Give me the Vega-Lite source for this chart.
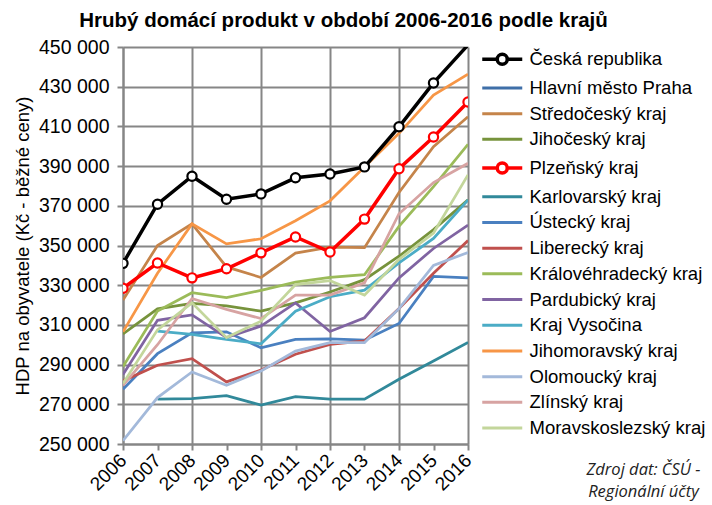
{
  "$schema": "https://vega.github.io/schema/vega-lite/v6.json",
  "width": 345,
  "height": 397,
  "autosize": "none",
  "padding": {"left": 123, "top": 47, "right": 244, "bottom": 61},
  "background": "white",
  "title": {
    "text": "Hrubý domácí produkt v období 2006-2016 podle krajů",
    "font": "Liberation Sans",
    "fontSize": 20.5,
    "fontWeight": "bold",
    "color": "black",
    "anchor": "middle",
    "frame": "group",
    "dx": 48,
    "baseline": "alphabetic",
    "offset": -10
  },
  "config": {
    "view": {"stroke": null},
    "font": "Liberation Sans"
  },
  "data": {
    "values": [
      {"r": "Česká republika", "y": 2006, "v": 341000}, {"r": "Česká republika", "y": 2007, "v": 370800}, {"r": "Česká republika", "y": 2008, "v": 384900}, {"r": "Česká republika", "y": 2009, "v": 373300}, {"r": "Česká republika", "y": 2010, "v": 376000}, {"r": "Česká republika", "y": 2011, "v": 384100}, {"r": "Česká republika", "y": 2012, "v": 386000}, {"r": "Česká republika", "y": 2013, "v": 389600}, {"r": "Česká republika", "y": 2014, "v": 409800}, {"r": "Česká republika", "y": 2015, "v": 431900}, {"r": "Česká republika", "y": 2016, "v": 451000},
      {"r": "Plzeňský kraj", "y": 2006, "v": 328500}, {"r": "Plzeňský kraj", "y": 2007, "v": 341200}, {"r": "Plzeňský kraj", "y": 2008, "v": 333700}, {"r": "Plzeňský kraj", "y": 2009, "v": 338300}, {"r": "Plzeňský kraj", "y": 2010, "v": 346300}, {"r": "Plzeňský kraj", "y": 2011, "v": 354300}, {"r": "Plzeňský kraj", "y": 2012, "v": 346700}, {"r": "Plzeňský kraj", "y": 2013, "v": 363300}, {"r": "Plzeňský kraj", "y": 2014, "v": 388700}, {"r": "Plzeňský kraj", "y": 2015, "v": 404700}, {"r": "Plzeňský kraj", "y": 2016, "v": 422300},
      {"r": "Středočeský kraj", "y": 2006, "v": 322500}, {"r": "Středočeský kraj", "y": 2007, "v": 350000}, {"r": "Středočeský kraj", "y": 2008, "v": 360900}, {"r": "Středočeský kraj", "y": 2009, "v": 339200}, {"r": "Středočeský kraj", "y": 2010, "v": 333900}, {"r": "Středočeský kraj", "y": 2011, "v": 346200}, {"r": "Středočeský kraj", "y": 2012, "v": 349200}, {"r": "Středočeský kraj", "y": 2013, "v": 348900}, {"r": "Středočeský kraj", "y": 2014, "v": 376700}, {"r": "Středočeský kraj", "y": 2015, "v": 399800}, {"r": "Středočeský kraj", "y": 2016, "v": 414900},
      {"r": "Jihočeský kraj", "y": 2006, "v": 305500}, {"r": "Jihočeský kraj", "y": 2007, "v": 318100}, {"r": "Jihočeský kraj", "y": 2008, "v": 320800}, {"r": "Jihočeský kraj", "y": 2009, "v": 319600}, {"r": "Jihočeský kraj", "y": 2010, "v": 316900}, {"r": "Jihočeský kraj", "y": 2011, "v": 321100}, {"r": "Jihočeský kraj", "y": 2012, "v": 326600}, {"r": "Jihočeský kraj", "y": 2013, "v": 332800}, {"r": "Jihočeský kraj", "y": 2014, "v": 344600}, {"r": "Jihočeský kraj", "y": 2015, "v": 358000}, {"r": "Jihočeský kraj", "y": 2016, "v": 373000},
      {"r": "Karlovarský kraj", "y": 2007, "v": 272600}, {"r": "Karlovarský kraj", "y": 2008, "v": 272900}, {"r": "Karlovarský kraj", "y": 2009, "v": 274400}, {"r": "Karlovarský kraj", "y": 2010, "v": 269600}, {"r": "Karlovarský kraj", "y": 2011, "v": 273900}, {"r": "Karlovarský kraj", "y": 2012, "v": 272600}, {"r": "Karlovarský kraj", "y": 2013, "v": 272600}, {"r": "Karlovarský kraj", "y": 2014, "v": 282600}, {"r": "Karlovarský kraj", "y": 2015, "v": 291800}, {"r": "Karlovarský kraj", "y": 2016, "v": 301200},
      {"r": "Ústecký kraj", "y": 2006, "v": 277600}, {"r": "Ústecký kraj", "y": 2007, "v": 295500}, {"r": "Ústecký kraj", "y": 2008, "v": 306000}, {"r": "Ústecký kraj", "y": 2009, "v": 306500}, {"r": "Ústecký kraj", "y": 2010, "v": 298500}, {"r": "Ústecký kraj", "y": 2011, "v": 302700}, {"r": "Ústecký kraj", "y": 2012, "v": 303000}, {"r": "Ústecký kraj", "y": 2013, "v": 302300}, {"r": "Ústecký kraj", "y": 2014, "v": 310700}, {"r": "Ústecký kraj", "y": 2015, "v": 334400}, {"r": "Ústecký kraj", "y": 2016, "v": 333700},
      {"r": "Liberecký kraj", "y": 2006, "v": 281800}, {"r": "Liberecký kraj", "y": 2007, "v": 289700}, {"r": "Liberecký kraj", "y": 2008, "v": 293000}, {"r": "Liberecký kraj", "y": 2009, "v": 281300}, {"r": "Liberecký kraj", "y": 2010, "v": 287300}, {"r": "Liberecký kraj", "y": 2011, "v": 295200}, {"r": "Liberecký kraj", "y": 2012, "v": 300200}, {"r": "Liberecký kraj", "y": 2013, "v": 301900}, {"r": "Liberecký kraj", "y": 2014, "v": 318200}, {"r": "Liberecký kraj", "y": 2015, "v": 336000}, {"r": "Liberecký kraj", "y": 2016, "v": 352500},
      {"r": "Královéhradecký kraj", "y": 2006, "v": 289000}, {"r": "Královéhradecký kraj", "y": 2007, "v": 317000}, {"r": "Královéhradecký kraj", "y": 2008, "v": 326200}, {"r": "Královéhradecký kraj", "y": 2009, "v": 323700}, {"r": "Královéhradecký kraj", "y": 2010, "v": 327400}, {"r": "Královéhradecký kraj", "y": 2011, "v": 331500}, {"r": "Královéhradecký kraj", "y": 2012, "v": 333900}, {"r": "Královéhradecký kraj", "y": 2013, "v": 335300}, {"r": "Královéhradecký kraj", "y": 2014, "v": 359600}, {"r": "Královéhradecký kraj", "y": 2015, "v": 379700}, {"r": "Královéhradecký kraj", "y": 2016, "v": 401000},
      {"r": "Pardubický kraj", "y": 2006, "v": 285000}, {"r": "Pardubický kraj", "y": 2007, "v": 312300}, {"r": "Pardubický kraj", "y": 2008, "v": 315000}, {"r": "Pardubický kraj", "y": 2009, "v": 303600}, {"r": "Pardubický kraj", "y": 2010, "v": 309400}, {"r": "Pardubický kraj", "y": 2011, "v": 321100}, {"r": "Pardubický kraj", "y": 2012, "v": 306700}, {"r": "Pardubický kraj", "y": 2013, "v": 313600}, {"r": "Pardubický kraj", "y": 2014, "v": 333700}, {"r": "Pardubický kraj", "y": 2015, "v": 348500}, {"r": "Pardubický kraj", "y": 2016, "v": 360300},
      {"r": "Kraj Vysočina", "y": 2007, "v": 306900}, {"r": "Kraj Vysočina", "y": 2008, "v": 305200}, {"r": "Kraj Vysočina", "y": 2009, "v": 302700}, {"r": "Kraj Vysočina", "y": 2010, "v": 300500}, {"r": "Kraj Vysočina", "y": 2011, "v": 316900}, {"r": "Kraj Vysočina", "y": 2012, "v": 324200}, {"r": "Kraj Vysočina", "y": 2013, "v": 327500}, {"r": "Kraj Vysočina", "y": 2014, "v": 341200}, {"r": "Kraj Vysočina", "y": 2015, "v": 353600}, {"r": "Kraj Vysočina", "y": 2016, "v": 373000},
      {"r": "Jihomoravský kraj", "y": 2006, "v": 306500}, {"r": "Jihomoravský kraj", "y": 2007, "v": 336000}, {"r": "Jihomoravský kraj", "y": 2008, "v": 360900}, {"r": "Jihomoravský kraj", "y": 2009, "v": 350800}, {"r": "Jihomoravský kraj", "y": 2010, "v": 353400}, {"r": "Jihomoravský kraj", "y": 2011, "v": 362500}, {"r": "Jihomoravský kraj", "y": 2012, "v": 372500}, {"r": "Jihomoravský kraj", "y": 2013, "v": 389500}, {"r": "Jihomoravský kraj", "y": 2014, "v": 406500}, {"r": "Jihomoravský kraj", "y": 2015, "v": 425800}, {"r": "Jihomoravský kraj", "y": 2016, "v": 436300},
      {"r": "Olomoucký kraj", "y": 2006, "v": 251700}, {"r": "Olomoucký kraj", "y": 2007, "v": 273400}, {"r": "Olomoucký kraj", "y": 2008, "v": 286300}, {"r": "Olomoucký kraj", "y": 2009, "v": 279600}, {"r": "Olomoucký kraj", "y": 2010, "v": 286800}, {"r": "Olomoucký kraj", "y": 2011, "v": 296800}, {"r": "Olomoucký kraj", "y": 2012, "v": 301100}, {"r": "Olomoucký kraj", "y": 2013, "v": 301100}, {"r": "Olomoucký kraj", "y": 2014, "v": 318200}, {"r": "Olomoucký kraj", "y": 2015, "v": 340000}, {"r": "Olomoucký kraj", "y": 2016, "v": 346500},
      {"r": "Zlínský kraj", "y": 2006, "v": 279500}, {"r": "Zlínský kraj", "y": 2007, "v": 300000}, {"r": "Zlínský kraj", "y": 2008, "v": 323300}, {"r": "Zlínský kraj", "y": 2009, "v": 317800}, {"r": "Zlínský kraj", "y": 2010, "v": 313200}, {"r": "Zlínský kraj", "y": 2011, "v": 325000}, {"r": "Zlínský kraj", "y": 2012, "v": 325000}, {"r": "Zlínský kraj", "y": 2013, "v": 331200}, {"r": "Zlínský kraj", "y": 2014, "v": 366000}, {"r": "Zlínský kraj", "y": 2015, "v": 381700}, {"r": "Zlínský kraj", "y": 2016, "v": 391400},
      {"r": "Moravskoslezský kraj", "y": 2006, "v": 280500}, {"r": "Moravskoslezský kraj", "y": 2007, "v": 307500}, {"r": "Moravskoslezský kraj", "y": 2008, "v": 321100}, {"r": "Moravskoslezský kraj", "y": 2009, "v": 303600}, {"r": "Moravskoslezský kraj", "y": 2010, "v": 311900}, {"r": "Moravskoslezský kraj", "y": 2011, "v": 330300}, {"r": "Moravskoslezský kraj", "y": 2012, "v": 332300}, {"r": "Moravskoslezský kraj", "y": 2013, "v": 325000}, {"r": "Moravskoslezský kraj", "y": 2014, "v": 343000}, {"r": "Moravskoslezský kraj", "y": 2015, "v": 356300}, {"r": "Moravskoslezský kraj", "y": 2016, "v": 385600}
    ]
  },
  "encoding": {
    "x": {
      "field": "y",
      "type": "quantitative",
      "scale": {"domain": [2006, 2016], "nice": false, "zero": false},
      "axis": {
        "values": [2006, 2007, 2008, 2009, 2010, 2011, 2012, 2013, 2014, 2015, 2016],
        "format": "d",
        "labelAngle": -45,
        "labelAlign": "right",
        "labelBaseline": "middle",
        "labelFontSize": 19,
        "labelColor": "black",
        "labelPadding": 7,
        "labelFlush": false,
        "labelOverlap": false,
        "tickSize": 6,
        "tickColor": "#868686",
        "tickWidth": 2,
        "domainColor": "#868686",
        "domainWidth": 2,
        "grid": true,
        "gridColor": "#868686",
        "gridWidth": 2,
        "gridOpacity": {"condition": {"test": "datum.value % 2 !== 0", "value": 0}, "value": 1},
        "title": ["Zdroj dat: ČSÚ -", "Regionální účty"],
        "titleFont": "Open Sans",
        "titleFontStyle": "italic",
        "titleFontWeight": "normal",
        "titleFontSize": 16.5,
        "titleColor": "#222222",
        "titleLineHeight": 22,
        "titleAlign": "center",
        "titleBaseline": "top",
        "titleX": 520,
        "titleY": 17
      }
    },
    "y": {
      "field": "v",
      "type": "quantitative",
      "scale": {"domain": [250000, 450000], "nice": false, "zero": false},
      "axis": {
        "values": [250000, 270000, 290000, 310000, 330000, 350000, 370000, 390000, 410000, 430000, 450000],
        "labelExpr": "replace(format(datum.value, ',d'), ',', ' ')",
        "labelFontSize": 19.5,
        "labelColor": "black",
        "labelPadding": 8,
        "tickSize": 6,
        "tickColor": "#868686",
        "tickWidth": 2,
        "domainColor": "#868686",
        "domainWidth": 2,
        "grid": true,
        "gridColor": "#868686",
        "gridWidth": 2,
        "title": "HDP na obyvatele (Kč - běžné ceny)",
        "titleFontSize": 18.5,
        "titleFontWeight": "normal",
        "titleColor": "black",
        "titleAngle": -90,
        "titleAlign": "center",
        "titleBaseline": "middle",
        "titleX": -101,
        "titleY": 198.5
      }
    },
    "stroke": {
      "field": "r",
      "type": "nominal",
      "scale": {
        "domain": ["Česká republika", "Hlavní město Praha", "Středočeský kraj", "Jihočeský kraj", "Plzeňský kraj", "Karlovarský kraj", "Ústecký kraj", "Liberecký kraj", "Královéhradecký kraj", "Pardubický kraj", "Kraj Vysočina", "Jihomoravský kraj", "Olomoucký kraj", "Zlínský kraj", "Moravskoslezský kraj"],
        "range": ["#000000", "#3F6FA8", "#C5844A", "#77933C", "#FF0000", "#31899A", "#4A80C0", "#C0504D", "#9BBB59", "#8064A2", "#4BACC6", "#F79646", "#A3B9DA", "#D7A3A2", "#C3D69B"]
      },
      "legend": {
        "orient": "none",
        "legendX": 370,
        "legendY": 3,
        "padding": 0,
        "title": null,
        "labelFont": "Liberation Sans",
        "labelFontSize": 18.5,
        "labelColor": "black",
        "labelLimit": 300,
        "labelOffset": 18,
        "rowPadding": 6.7,
        "symbolType": "M-4,0L4,0",
        "symbolSize": 100,
        "symbolStrokeWidth": 3,
        "encode": {
          "symbols": {
            "update": {
              "shape": {"signal": "datum.value === 'Česká republika' || datum.value === 'Plzeňský kraj' ? 'M-4,0L-1,0M1,0L4,0M1,0A1,1,0,1,1,-1,0A1,1,0,1,1,1,0Z' : 'M-4,0L4,0'"},
              "fill": {"value": "white"},
              "fillOpacity": {"value": 1},
              "opacity": {"value": 1},
              "strokeWidth": {"signal": "datum.value === 'Česká republika' || datum.value === 'Plzeňský kraj' ? 3.5 : 3"}
            }
          }
        }
      }
    }
  },
  "layer": [
    {
      "transform": [{"filter": "datum.r !== 'Česká republika' && datum.r !== 'Plzeňský kraj'"}],
      "mark": {"type": "line", "strokeWidth": 2.75, "clip": true}
    },
    {
      "transform": [{"filter": "datum.r === 'Česká republika' || datum.r === 'Plzeňský kraj'"}],
      "mark": {"type": "line", "strokeWidth": 3.5, "clip": true}
    },
    {
      "transform": [{"filter": "(datum.r === 'Česká republika' || datum.r === 'Plzeňský kraj') && datum.v <= 450000"}],
      "mark": {"type": "point", "shape": "circle", "filled": false, "fill": "white", "fillOpacity": 1, "opacity": 1, "size": 85, "strokeWidth": 2.2, "clip": true}
    }
  ]
}
